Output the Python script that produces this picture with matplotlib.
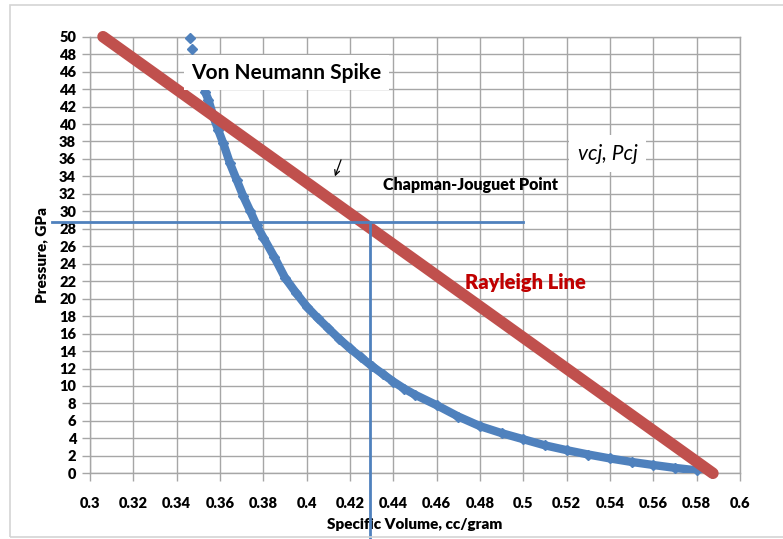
import matplotlib
matplotlib.use("Agg")
import matplotlib.pyplot as plt
from matplotlib.patches import Rectangle

# ---- data ----
ray_v = [0.306, 0.5875]
ray_p = [50.0, 0.0]

hug_v = [0.3462, 0.3472, 0.3531, 0.3546, 0.3569, 0.3592, 0.3615, 0.3646, 0.3677,
         0.3708, 0.3740, 0.3769, 0.3800, 0.3850, 0.3900, 0.3950, 0.4000, 0.4050,
         0.4100, 0.4150, 0.4200, 0.4250, 0.4300, 0.4350, 0.4400, 0.4450, 0.4500,
         0.4600, 0.4700, 0.4800, 0.4900, 0.5000, 0.5100, 0.5200, 0.5300, 0.5400,
         0.5500, 0.5600, 0.5700, 0.5800, 0.5870]
hug_p = [49.8, 48.6, 43.7, 42.8, 40.9, 39.3, 37.8, 35.5, 33.6,
         31.7, 30.0, 28.4, 27.0, 24.8, 22.4, 20.7, 19.1, 17.8,
         16.6, 15.4, 14.3, 13.3, 12.3, 11.4, 10.5, 9.7, 9.0,
         7.8, 6.5, 5.4, 4.6, 3.9, 3.2, 2.65, 2.15, 1.7,
         1.3, 0.95, 0.62, 0.34, 0.08]

cj_v = 0.4292
cj_p = 28.8
cj_hline_v = [0.2825, 0.4998]
cj_vline_p = [28.8, -7.6]

x_ticks = [0.3, 0.32, 0.34, 0.36, 0.38, 0.4, 0.42, 0.44, 0.46, 0.48, 0.5,
           0.52, 0.54, 0.56, 0.58, 0.6]
x_labels = ["0.3", "0.32", "0.34", "0.36", "0.38", "0.4", "0.42", "0.44", "0.46",
            "0.48", "0.5", "0.52", "0.54", "0.56", "0.58", "0.6"]
y_ticks = list(range(0, 52, 2))

BLUE = "#4F81BD"
RED = "#C0504D"
GRID = "#A6A6A6"
FONT = "Lato"

W, H = 783, 539
fig = plt.figure(figsize=(W / 100, H / 100), dpi=100)
fig.patch.set_facecolor("white")
ax = fig.add_axes([90 / W, 1 - 473.3 / H, 650 / W, (473.3 - 36.7) / H])

# chart border
fig.patches.append(Rectangle((10 / W, 1 - 537 / H), 1.2, (537 - 5) / H,
                             transform=fig.transFigure, fill=False,
                             edgecolor="#D4D4D4", linewidth=1.2))

ax.set_xlim(0.3, 0.6)
ax.set_ylim(0, 50)
ax.set_xticks(x_ticks)
ax.set_xticklabels(x_labels)
ax.set_yticks(y_ticks)
ax.grid(True, color=GRID, linewidth=1.0)
ax.set_axisbelow(True)
for s in ax.spines.values():
    s.set_color(GRID)
    s.set_linewidth(1.0)
ax.tick_params(axis="both", color=GRID, length=6, width=1.0)
ax.tick_params(axis="x", pad=11)
ax.tick_params(axis="y", pad=4)
for lab in ax.get_xticklabels() + ax.get_yticklabels():
    lab.set_fontfamily(FONT)
    lab.set_fontweight("heavy")
    lab.set_fontsize(10.5)

ax.set_xlabel("Specific Volume, cc/gram", fontfamily=FONT, fontweight="heavy",
              fontsize=11, labelpad=6)
ax.set_ylabel("Pressure, GPa", fontfamily=FONT, fontweight="heavy",
              fontsize=11, labelpad=8)

# Hugoniot (blue)
ax.plot(hug_v[2:], hug_p[2:], "-", color=BLUE, linewidth=6.0, zorder=3,
        solid_capstyle="round")
ax.plot(hug_v, hug_p, "D", color=BLUE, markersize=5.5, zorder=3, clip_on=False)

# Rayleigh line (red)
ax.plot(ray_v, ray_p, "-", color=RED, linewidth=8.3, zorder=4,
        solid_capstyle="round", clip_on=False)

# CJ lines
ax.plot(cj_hline_v, [cj_p, cj_p], "-", color=BLUE, linewidth=2.0, zorder=5,
        clip_on=False)
ax.plot([cj_v, cj_v], cj_vline_p, "-", color=BLUE, linewidth=2.0, zorder=5,
        clip_on=False)

# annotations
ax.text(0.3468, 45.9, "Von Neumann Spike", fontfamily=FONT, fontweight="bold",
        fontsize=15, va="center", ha="left", zorder=6,
        bbox=dict(boxstyle="square,pad=0.35", facecolor="white", edgecolor="none"))
ax.text(0.4352, 33.0, "Chapman-Jouguet Point", fontfamily=FONT,
        fontweight="heavy", fontsize=11.5, va="center", ha="left", zorder=6)
ax.text(0.5250, 36.6, "vcj, Pcj", fontfamily=FONT, fontstyle="italic",
        fontsize=15, va="center", ha="left", zorder=6,
        bbox=dict(boxstyle="square,pad=0.4", facecolor="white", edgecolor="none"))
ax.text(0.4731, 21.8, "Rayleigh Line", fontfamily=FONT, fontweight="heavy",
        fontsize=14.5, color="#C00000", va="center", ha="left", zorder=6)
ax.annotate("", xy=(0.4126, 33.7), xytext=(0.4163, 36.2),
            arrowprops=dict(arrowstyle="->", color="black", linewidth=0.9,
                            mutation_scale=9), zorder=6)

fig.savefig("out.png", dpi=100)
